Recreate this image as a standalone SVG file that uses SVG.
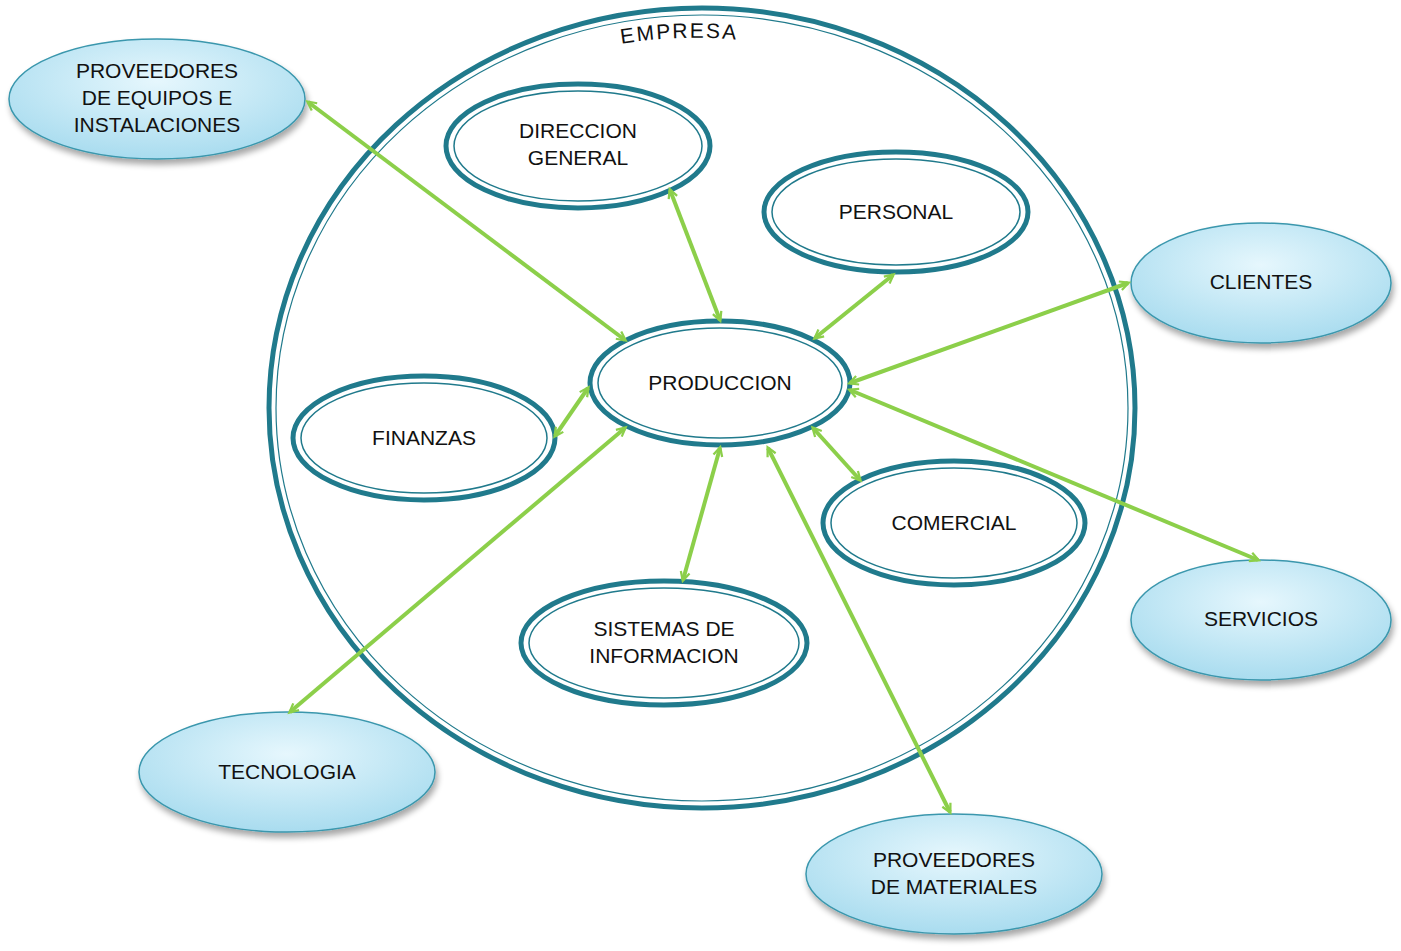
<svg xmlns="http://www.w3.org/2000/svg" width="1401" height="951" viewBox="0 0 1401 951">
<defs>
<radialGradient id="blue" cx="50%" cy="35%" r="65%"><stop offset="0" stop-color="#e6f7fd"/><stop offset="1" stop-color="#a9dcef"/></radialGradient>
<filter id="sh" x="-20%" y="-20%" width="140%" height="150%"><feGaussianBlur in="SourceAlpha" stdDeviation="3"/><feOffset dx="2" dy="5"/><feComponentTransfer><feFuncA type="linear" slope="0.35"/></feComponentTransfer><feMerge><feMergeNode/><feMergeNode in="SourceGraphic"/></feMerge></filter>
<marker id="ah" viewBox="0 0 20 20" refX="18" refY="10" markerWidth="9" markerHeight="9" markerUnits="userSpaceOnUse" orient="auto-start-reverse" overflow="visible"><path d="M0,0 L20,10 L0,20" fill="none" stroke="#8ccf4a" stroke-width="5"/></marker>
<path id="arc" d="M560,58 A440,420 0 0 1 800,50"/>
</defs>
<style>
text{font-family:"Liberation Sans",Arial,sans-serif;font-size:21px;fill:#111;text-anchor:middle}
.in1{fill:#fff;stroke:#207a8c;stroke-width:5}
.in2{fill:none;stroke:#207a8c;stroke-width:1.5}
.out{fill:url(#blue);stroke:#3a97ad;stroke-width:1.5;filter:url(#sh)}
.c line{stroke:#8ccf4a;stroke-width:4;marker-start:url(#ah);marker-end:url(#ah)}
.c2 line{stroke:#fff;stroke-width:1}
</style>
<rect width="1401" height="951" fill="#fff"/>
<g id="empresa">
<ellipse cx="702" cy="408" rx="433" ry="400" fill="none" stroke="#207a8c" stroke-width="5"/>
<ellipse cx="702" cy="408" rx="426" ry="393" fill="none" stroke="#207a8c" stroke-width="1.2"/>
<text font-size="38" letter-spacing="2"><textPath href="#arc" startOffset="50%">EMPRESA</textPath></text>
</g>
<g id="direccion"><ellipse class="in1" cx="578" cy="146" rx="132" ry="62"/><ellipse class="in2" cx="578" cy="146" rx="124" ry="55"/><text x="578" y="138">DIRECCION</text><text x="578" y="165">GENERAL</text></g>
<g id="personal"><ellipse class="in1" cx="896" cy="212" rx="132" ry="60"/><ellipse class="in2" cx="896" cy="212" rx="124" ry="53"/><text x="896" y="219">PERSONAL</text></g>
<g id="produccion"><ellipse class="in1" cx="720" cy="383" rx="130" ry="62"/><ellipse class="in2" cx="720" cy="383" rx="122" ry="55"/><text x="720" y="390">PRODUCCION</text></g>
<g id="finanzas"><ellipse class="in1" cx="424" cy="438" rx="131" ry="62"/><ellipse class="in2" cx="424" cy="438" rx="123" ry="55"/><text x="424" y="445">FINANZAS</text></g>
<g id="comercial"><ellipse class="in1" cx="954" cy="523" rx="131" ry="62"/><ellipse class="in2" cx="954" cy="523" rx="123" ry="55"/><text x="954" y="530">COMERCIAL</text></g>
<g id="sistemas"><ellipse class="in1" cx="664" cy="643" rx="143" ry="62"/><ellipse class="in2" cx="664" cy="643" rx="135" ry="55"/><text x="664" y="636">SISTEMAS DE</text><text x="664" y="663">INFORMACION</text></g>
<g id="prov-equipos"><ellipse class="out" cx="157" cy="99" rx="148" ry="60"/><text x="157" y="78">PROVEEDORES</text><text x="157" y="105">DE EQUIPOS E</text><text x="157" y="132">INSTALACIONES</text></g>
<g id="clientes"><ellipse class="out" cx="1261" cy="283" rx="130" ry="60"/><text x="1261" y="289">CLIENTES</text></g>
<g id="servicios"><ellipse class="out" cx="1261" cy="620" rx="130" ry="60"/><text x="1261" y="626">SERVICIOS</text></g>
<g id="tecnologia"><ellipse class="out" cx="287" cy="772" rx="148" ry="60"/><text x="287" y="779">TECNOLOGIA</text></g>
<g id="prov-materiales"><ellipse class="out" cx="954" cy="874" rx="148" ry="60"/><text x="954" y="867">PROVEEDORES</text><text x="954" y="894">DE MATERIALES</text></g>
<g id="connectors" class="c">
<line x1="308" y1="102" x2="625" y2="340"/>
<line x1="670" y1="190" x2="720" y2="320"/>
<line x1="893" y1="275" x2="815" y2="338"/>
<line x1="1128" y1="283" x2="850" y2="383"/>
<line x1="850" y1="390" x2="1258" y2="560"/>
<line x1="588" y1="388" x2="555" y2="436"/>
<line x1="625" y1="428" x2="290" y2="712"/>
<line x1="720" y1="448" x2="683" y2="580"/>
<line x1="813" y1="428" x2="860" y2="480"/>
<line x1="768" y1="448" x2="950" y2="812"/>
</g>
</svg>
